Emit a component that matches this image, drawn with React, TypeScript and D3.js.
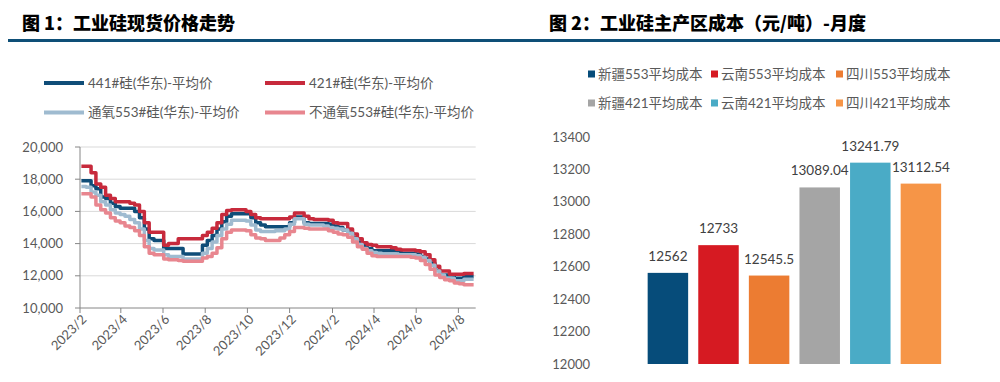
import React from "react";
import * as d3 from "d3";

// ---------- Chart 1 data (weekly, from 2023-02-03) ----------
const startDate = new Date(2023, 1, 3);
const s441 = [17900,17900,17600,17400,16900,16800,16500,16300,16200,16200,16200,16000,15600,14900,14300,14200,14200,13700,13700,13700,13700,13350,13350,13350,13350,13900,14200,14500,14900,15350,15700,15850,15850,15850,15850,15600,15300,15150,15050,15050,15050,15050,15050,15300,15650,15650,15300,15250,15250,15250,15250,15200,15100,15000,14850,14700,14350,14100,13900,13700,13550,13550,13550,13550,13550,13550,13400,13400,13400,13350,13200,13050,12800,12350,12050,12050,12050,11850,11850,11950,11950,11950];
const s421 = [18800,18800,18400,17700,17500,17000,16800,16600,16600,16600,16500,16400,16000,15300,14700,14700,14700,13900,14000,14000,14300,14300,14300,14300,14300,14500,14700,14950,15300,15800,16050,16100,16100,16100,16000,15800,15600,15550,15550,15550,15550,15550,15550,15650,15900,15900,15700,15550,15500,15500,15500,15450,15300,15250,15250,14900,14600,14300,14050,13950,13900,13800,13800,13800,13750,13650,13600,13600,13600,13550,13500,13300,13000,12600,12300,12300,12100,12100,12100,12150,12150,12150];
const s553o = [17550,17500,17200,17000,16600,16400,16100,15900,15800,15700,15500,15300,14900,14200,13700,13600,13600,13300,13200,13200,13200,13050,13050,13050,13050,13400,13700,14100,14500,14900,15200,15450,15450,15450,15400,15150,14850,14750,14750,14750,14800,14800,14900,15200,15550,15550,15200,15150,15150,15150,15100,15000,14950,14900,14850,14650,14300,13950,13700,13550,13450,13400,13350,13350,13350,13300,13300,13300,13300,13250,13150,12950,12650,12300,12050,11850,11850,11700,11700,11780,11780,11780];
const s553n = [17100,17100,16900,16400,16100,15900,15600,15400,15300,15100,15000,14800,14500,13800,13400,13300,13300,13050,13000,13000,12950,12900,12900,12900,12900,13100,13200,13400,13750,14300,14700,14850,14850,14850,14800,14550,14350,14300,14200,14200,14200,14350,14550,14750,15000,15000,14950,14900,14900,14900,14900,14800,14700,14600,14550,14400,14100,13800,13650,13400,13250,13200,13200,13200,13200,13200,13200,13200,13150,13100,12950,12700,12400,12050,11900,11750,11700,11550,11500,11450,11450,11450];
const lineNames = ["441#硅(华东)-平均价", "421#硅(华东)-平均价", "通氧553#硅(华东)-平均价", "不通氧553#硅(华东)-平均价"];
const lineColors = ["#0f4d78", "#c72a3c", "#9fbbd0", "#e8868f"];
const yTicks1 = [10000, 12000, 14000, 16000, 18000, 20000];
const xTickLabels1 = ["2023/2","2023/4","2023/6","2023/8","2023/10","2023/12","2024/2","2024/4","2024/6","2024/8"];

// ---------- Chart 2 data ----------
const barNames = ["新疆553平均成本","云南553平均成本","四川553平均成本","新疆421平均成本","云南421平均成本","四川421平均成本"];
const barValues = [12562, 12733, 12545.5, 13089.04, 13241.79, 13112.54];
const barLabels = ["12562","12733","12545.5","13089.04","13241.79","13112.54"];
const barColors = ["#064c7a","#d61a22","#ec7c32","#a5a5a5","#4aabc6","#f69547"];
const yTicks2 = [12000,12200,12400,12600,12800,13000,13200,13400];

const FONT = "Lato, 'Noto Sans CJK SC', sans-serif";
const CJK = "'Noto Sans CJK SC', sans-serif";

export default function App() {
  const dates = s441.map((_, i) => d3.timeDay.offset(startDate, 7 * i));
  const x1 = d3.scaleTime().domain([new Date(2023, 1, 1), new Date(2024, 7, 26)]).range([80, 475.7]);
  const y1 = d3.scaleLinear().domain([10000, 20000]).range([308, 147]);
  const series = [s441, s421, s553o, s553n];
  const tickDates = xTickLabels1.map((l) => { const [yy, mm] = l.split("/").map(Number); return new Date(yy, mm - 1, 1); });
  const line = d3.line<number>().x((_, i) => x1(dates[i])).y((v) => y1(v)).curve(d3.curveStepAfter);

  const x2 = d3.scaleBand<string>().domain(barNames).range([642.6, 946.2]).paddingInner(0.2).paddingOuter(0.1);
  const y2 = d3.scaleLinear().domain([12000, 13400]).range([364, 137]);

  const legendPos1 = [[44, 83], [265, 83], [44, 112.5], [265, 112.5]];
  const legendPos2 = barNames.map((_, i) => [[588, 711, 836][i % 3], i < 3 ? 74 : 103]);

  return (
    <svg width={1000} height={382} style={{ position: "absolute", left: 0, top: 0, background: "#fff" }}>
      {/* titles */}
      <text x={22} y={30} fontFamily={CJK} fontWeight={900} fontSize={18} fill="#000">图 1：工业硅现货价格走势</text>
      <text x={549} y={30} fontFamily={CJK} fontWeight={900} fontSize={18} fill="#000">图 2：工业硅主产区成本（元/吨）-月度</text>
      <rect x={8} y={39} width={992} height={3} fill="#0e4f77" />

      {/* Chart 1 legend */}
      {lineNames.map((n, i) => (
        <g key={n}>
          <line x1={legendPos1[i][0]} x2={legendPos1[i][0] + 40} y1={legendPos1[i][1]} y2={legendPos1[i][1]} stroke={lineColors[i]} strokeWidth={4} />
          <text x={legendPos1[i][0] + 44} y={legendPos1[i][1]} dy="0.35em" fontFamily={FONT} fontSize={13.5} fill="#595959">{n}</text>
        </g>
      ))}

      {/* Chart 1 grid */}
      {yTicks1.map((t) => (
        <g key={t}>
          {t > 10000 && <line x1={80} x2={475.7} y1={y1(t)} y2={y1(t)} stroke="#d9d9d9" strokeWidth={1} />}
          <line x1={75} x2={80} y1={y1(t)} y2={y1(t)} stroke="#868686" />
          <text x={63} y={y1(t)} dy="0.35em" textAnchor="end" fontFamily={FONT} fontSize={13} fill="#595959">{d3.format(",")(t)}</text>
        </g>
      ))}
      <line x1={80} x2={80} y1={147} y2={308} stroke="#868686" />
      <line x1={80} x2={475.7} y1={308} y2={308} stroke="#868686" />
      {tickDates.map((d, i) => (
        <g key={i}>
          <line x1={x1(d)} x2={x1(d)} y1={308} y2={313} stroke="#868686" />
          <text transform={`translate(${x1(d) + 4},${317}) rotate(-45)`} textAnchor="end" dy="0.35em" fontFamily={FONT} fontSize={13} fill="#595959">{xTickLabels1[i]}</text>
        </g>
      ))}
      {series.map((s, i) => (
        <path key={i} d={line(s) || ""} fill="none" stroke={lineColors[i]} strokeWidth={3.5} strokeLinejoin="round" />
      ))}

      {/* Chart 2 legend */}
      {barNames.map((n, i) => (
        <g key={n}>
          <rect x={legendPos2[i][0]} y={legendPos2[i][1] - 3.5} width={7} height={7} fill={barColors[i]} />
          <text x={legendPos2[i][0] + 10} y={legendPos2[i][1]} dy="0.35em" fontFamily={FONT} fontSize={13.5} fill="#595959">{n}</text>
        </g>
      ))}
      {yTicks2.map((t) => (
        <text key={t} x={590} y={y2(t)} dy="0.35em" textAnchor="end" fontFamily={FONT} fontSize={13} fill="#595959">{t}</text>
      ))}
      {barNames.map((n, i) => (
        <g key={n}>
          <rect x={x2(n)} y={y2(barValues[i])} width={x2.bandwidth()} height={364 - y2(barValues[i])} fill={barColors[i]} />
          <text x={(x2(n) as number) + x2.bandwidth() / 2} y={y2(barValues[i]) - 12} textAnchor="middle" fontFamily={FONT} fontSize={13.5} fill="#404040">{barLabels[i]}</text>
        </g>
      ))}
    </svg>
  );
}
